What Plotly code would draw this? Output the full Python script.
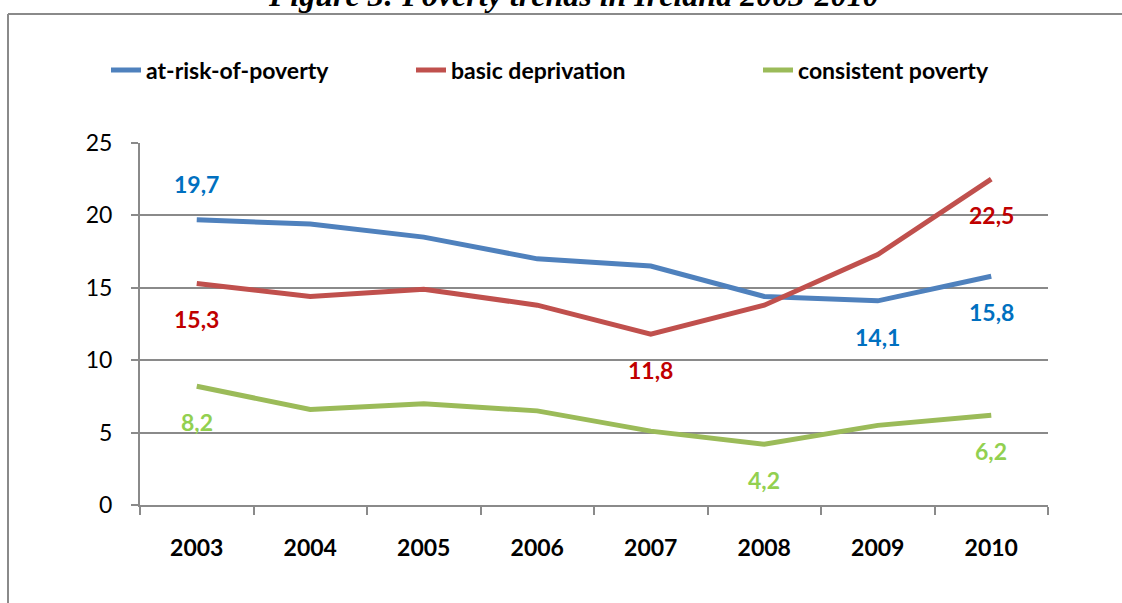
import plotly.graph_objects as go

years = ["2003", "2004", "2005", "2006", "2007", "2008", "2009", "2010"]
at_risk = [19.7, 19.4, 18.5, 17.0, 16.5, 14.4, 14.1, 15.8]
basic_dep = [15.3, 14.4, 14.9, 13.8, 11.8, 13.8, 17.3, 22.5]
consistent = [8.2, 6.6, 7.0, 6.5, 5.1, 4.2, 5.5, 6.2]

names = ["at-risk-of-poverty", "basic deprivation", "consistent poverty"]
line_colors = ["#4F81BD", "#C0504D", "#9BBB59"]
label_colors = ["#0070C0", "#C00000", "#92D050"]
label_points = [[0, 6, 7], [0, 4, 7], [0, 5, 7]]
label_side = [[1, -1, -1], [-1, -1, -1], [-1, -1, -1]]

title_text = "Figure 3: Poverty trends in Ireland 2003-2010"
FONT = "Lato"

L, R, T, B = 140, 74, 143, 98
pw, ph = 1122 - L - R, 603 - T - B


def px_x(p):
    return (p - L) / pw


def px_y(p):
    return (603 - B - p) / ph


legend_ids = ["legend", "legend2", "legend3"]
legend_text_px = [146, 451, 798]

fig = go.Figure()
series = [at_risk, basic_dep, consistent]
for vals, name, col, lg in zip(series, names, line_colors, legend_ids):
    fig.add_trace(go.Scatter(x=years, y=vals, name=name, mode="lines", legend=lg,
                             line=dict(color=col, width=5)))

annotations = []
for vals, idxs, sides, col in zip(series, label_points, label_side, label_colors):
    for i, s in zip(idxs, sides):
        annotations.append(dict(x=i, y=vals[i], xref="x", yref="y",
                                text="<b>" + f"{vals[i]:.1f}".replace(".", ",") + "</b>",
                                showarrow=False, yshift=36 * s,
                                font=dict(family=FONT, size=23, color=col)))

# Cut-off title at the top
annotations.append(dict(x=px_x(573), y=1.0, xref="paper", yref="paper", yanchor="bottom",
                        xanchor="center", yshift=(505 - 14) - 362 - 1, showarrow=False,
                        text=f"<b><i>{title_text}</i></b>",
                        font=dict(family="Liberation Serif", size=32, color="black")))

shapes = [
    dict(type="line", xref="paper", yref="paper", x0=px_x(8), x1=px_x(1130),
         y0=px_y(14), y1=px_y(14), line=dict(color="#8A8A8A", width=2)),
    dict(type="line", xref="paper", yref="paper", x0=px_x(8), x1=px_x(8),
         y0=px_y(14), y1=px_y(610), line=dict(color="#8A8A8A", width=2)),
]

legend_common = dict(orientation="h", yanchor="middle", xanchor="left", y=px_y(70),
                     font=dict(family=FONT, size=23, color="black", weight="bold"),
                     bgcolor="rgba(0,0,0,0)")
legends = {}
for lg, tx in zip(legend_ids, legend_text_px):
    legends[lg] = dict(legend_common, x=px_x(tx - 40))

fig.update_layout(
    width=1122, height=603,
    margin=dict(l=L, r=R, t=T, b=B),
    paper_bgcolor="white", plot_bgcolor="white",
    font=dict(family=FONT, size=22, color="black"),
    showlegend=True,
    annotations=annotations,
    shapes=shapes,
    xaxis=dict(type="category", range=[-0.5, 7.5], showgrid=False,
               showline=True, linecolor="#8A8A8A", linewidth=2,
               ticks="outside", tickson="boundaries", ticklen=8, tickcolor="#8A8A8A", tickwidth=2,
               tickfont=dict(family=FONT, size=23, color="black", weight="bold"),
               ticklabelstandoff=21, fixedrange=True),
    yaxis=dict(range=[0, 25], dtick=5, showgrid=True, gridcolor="#8A8A8A", gridwidth=2,
               showline=True, linecolor="#8A8A8A", linewidth=2,
               ticks="outside", ticklen=7, tickcolor="#8A8A8A", tickwidth=2,
               tickfont=dict(family=FONT, size=23, color="black"),
               ticklabelstandoff=14, zeroline=False, fixedrange=True),
    **legends,
)

fig.write_html("out.html")
